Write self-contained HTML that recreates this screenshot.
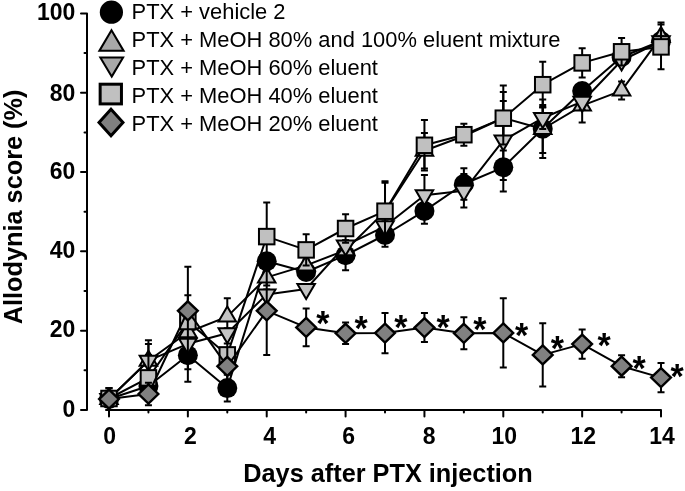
<!DOCTYPE html>
<html><head><meta charset="utf-8"><style>
html,body{margin:0;padding:0;background:#fff;width:685px;height:491px;overflow:hidden;}
svg{display:block;will-change:transform;}
</style></head><body>
<svg width="685" height="491" viewBox="0 0 685 491">
<rect width="685" height="491" fill="#fff"/>
<g stroke="#000" stroke-width="2" fill="none" stroke-linecap="round" stroke-linejoin="round"><path d="M81 13.4H87V410H81"/><path d="M84.5 370.34H87"/><path d="M81 330.68H87"/><path d="M84.5 291.02H87"/><path d="M81 251.36H87"/><path d="M84.5 211.7H87"/><path d="M81 172.04H87"/><path d="M84.5 132.38H87"/><path d="M81 92.72H87"/><path d="M84.5 53.06H87"/><path d="M109 416.5V410H661V416.5"/><path d="M148.43 410V412.6"/><path d="M187.86 410V416.5"/><path d="M227.29 410V412.6"/><path d="M266.72 410V416.5"/><path d="M306.15 410V412.6"/><path d="M345.58 410V416.5"/><path d="M385.01 410V412.6"/><path d="M424.44 410V416.5"/><path d="M463.87 410V412.6"/><path d="M503.3 410V416.5"/><path d="M542.73 410V412.6"/><path d="M582.16 410V416.5"/><path d="M621.59 410V412.6"/></g>
<g font-family="Liberation Sans, sans-serif" font-weight="bold" font-size="23" fill="#000"><text transform="translate(75.3 416.9) scale(1 1.04)" text-anchor="end">0</text><text transform="translate(75.3 337.28) scale(1 1.04)" text-anchor="end">20</text><text transform="translate(75.3 258.06) scale(1 1.04)" text-anchor="end">40</text><text transform="translate(75.3 179.29) scale(1 1.04)" text-anchor="end">60</text><text transform="translate(75.3 100.67) scale(1 1.04)" text-anchor="end">80</text><text transform="translate(75.3 19.55) scale(1 1.04)" text-anchor="end">100</text><text transform="translate(109.72 443.5) scale(1 1.04)" text-anchor="middle">0</text><text transform="translate(190.46 443.5) scale(1 1.04)" text-anchor="middle">2</text><text transform="translate(269.59 443.5) scale(1 1.04)" text-anchor="middle">4</text><text transform="translate(348.59 443.5) scale(1 1.04)" text-anchor="middle">6</text><text transform="translate(429.09 443.5) scale(1 1.04)" text-anchor="middle">8</text><text transform="translate(504.25 443.5) scale(1 1.04)" text-anchor="middle">10</text><text transform="translate(583.24 443.5) scale(1 1.04)" text-anchor="middle">12</text><text transform="translate(662.04 443.5) scale(1 1.04)" text-anchor="middle">14</text></g>
<text transform="translate(388 481.8) scale(1 1.04)" text-anchor="middle" font-family="Liberation Sans, sans-serif" font-weight="bold" font-size="25.3">Days after PTX injection</text>
<text transform="translate(21.6 206.9) rotate(-90) scale(1 1.04)" text-anchor="middle" font-family="Liberation Sans, sans-serif" font-weight="bold" font-size="25.3">Allodynia score (%)</text>
<g stroke="#000" stroke-width="2" fill="none"><path d="M109 393V405M105.5 393h7M105.5 405h7"/><path d="M148.43 380V392M144.93 380h7M144.93 392h7"/><path d="M187.86 328.8V381.8M184.36 328.8h7M184.36 381.8h7"/><path d="M227.29 374.7V401.5M223.79 374.7h7M223.79 401.5h7"/><path d="M266.72 256.3V266.3M263.22 256.3h7M263.22 266.3h7"/><path d="M306.15 267V277M302.65 267h7M302.65 277h7"/><path d="M345.58 240.2V270.2M342.08 240.2h7M342.08 270.2h7"/><path d="M385.01 223.2V246.8M381.51 223.2h7M381.51 246.8h7"/><path d="M424.44 198.1V223.7M420.94 198.1h7M420.94 223.7h7"/><path d="M463.87 168.3V199.7M460.37 168.3h7M460.37 199.7h7"/><path d="M503.3 143V191.6M499.8 143h7M499.8 191.6h7"/><path d="M542.73 99.5V157.9M539.23 99.5h7M539.23 157.9h7"/><path d="M582.16 83V99M578.66 83h7M578.66 99h7"/><path d="M621.59 49V65M618.09 49h7M618.09 65h7"/><path d="M661.02 33V49M657.52 33h7M657.52 49h7"/></g>
<polyline points="109,399 148.43,386 187.86,355.3 227.29,388.1 266.72,261.3 306.15,272 345.58,255.2 385.01,235 424.44,210.9 463.87,184 503.3,167.3 542.73,128.7 582.16,91 621.59,57 661.02,41" fill="none" stroke="#000" stroke-width="2" stroke-linejoin="round"/>
<circle cx="109" cy="399" r="10" fill="#000"/><circle cx="148.43" cy="386" r="10" fill="#000"/><circle cx="187.86" cy="355.3" r="10" fill="#000"/><circle cx="227.29" cy="388.1" r="10" fill="#000"/><circle cx="266.72" cy="261.3" r="10" fill="#000"/><circle cx="306.15" cy="272" r="10" fill="#000"/><circle cx="345.58" cy="255.2" r="10" fill="#000"/><circle cx="385.01" cy="235" r="10" fill="#000"/><circle cx="424.44" cy="210.9" r="10" fill="#000"/><circle cx="463.87" cy="184" r="10" fill="#000"/><circle cx="503.3" cy="167.3" r="10" fill="#000"/><circle cx="542.73" cy="128.7" r="10" fill="#000"/><circle cx="582.16" cy="91" r="10" fill="#000"/><circle cx="621.59" cy="57" r="10" fill="#000"/><circle cx="661.02" cy="41" r="10" fill="#000"/>
<g stroke="#000" stroke-width="2" fill="none"><path d="M109 388V410M105.5 388h7M105.5 410h7"/><path d="M148.43 340.2V381.2M144.93 340.2h7M144.93 381.2h7"/><path d="M187.86 295.2V369.2M184.36 295.2h7M184.36 369.2h7"/><path d="M227.29 298.3V334.9M223.79 298.3h7M223.79 334.9h7"/><path d="M266.72 269.4V285.4M263.22 269.4h7M263.22 285.4h7"/><path d="M306.15 259.4V271.4M302.65 259.4h7M302.65 271.4h7"/><path d="M345.58 244.2V256.2M342.08 244.2h7M342.08 256.2h7"/><path d="M385.01 182.8V240M381.51 182.8h7M381.51 240h7"/><path d="M424.44 132.9V168.5M420.94 132.9h7M420.94 168.5h7"/><path d="M463.87 130V142M460.37 130h7M460.37 142h7"/><path d="M503.3 85.5V150.5M499.8 85.5h7M499.8 150.5h7"/><path d="M542.73 105V153M539.23 105h7M539.23 153h7"/><path d="M582.16 88.8V122.4M578.66 88.8h7M578.66 122.4h7"/><path d="M621.59 81.6V99.6M618.09 81.6h7M618.09 99.6h7"/><path d="M661.02 22.5V51.3M657.52 22.5h7M657.52 51.3h7"/></g>
<polyline points="109,399 148.43,360.7 187.86,332.2 227.29,316.6 266.72,277.4 306.15,265.4 345.58,250.2 385.01,211.4 424.44,150.7 463.87,136 503.3,118 542.73,129 582.16,105.6 621.59,90.6 661.02,36.9" fill="none" stroke="#000" stroke-width="2" stroke-linejoin="round"/>
<path d="M109 388.98L117.76 404L100.24 404Z" fill="#c4c4c4" stroke="#000" stroke-width="2" stroke-miterlimit="10"/><path d="M148.43 350.68L157.19 365.7L139.67 365.7Z" fill="#c4c4c4" stroke="#000" stroke-width="2" stroke-miterlimit="10"/><path d="M187.86 322.18L196.62 337.2L179.1 337.2Z" fill="#c4c4c4" stroke="#000" stroke-width="2" stroke-miterlimit="10"/><path d="M227.29 306.58L236.05 321.6L218.53 321.6Z" fill="#c4c4c4" stroke="#000" stroke-width="2" stroke-miterlimit="10"/><path d="M266.72 267.38L275.48 282.4L257.96 282.4Z" fill="#c4c4c4" stroke="#000" stroke-width="2" stroke-miterlimit="10"/><path d="M306.15 255.38L314.91 270.4L297.39 270.4Z" fill="#c4c4c4" stroke="#000" stroke-width="2" stroke-miterlimit="10"/><path d="M345.58 240.18L354.34 255.2L336.82 255.2Z" fill="#c4c4c4" stroke="#000" stroke-width="2" stroke-miterlimit="10"/><path d="M424.44 140.68L433.2 155.7L415.68 155.7Z" fill="#c4c4c4" stroke="#000" stroke-width="2" stroke-miterlimit="10"/><path d="M542.73 118.98L551.49 134L533.97 134Z" fill="#c4c4c4" stroke="#000" stroke-width="2" stroke-miterlimit="10"/><path d="M582.16 95.58L590.92 110.6L573.4 110.6Z" fill="#c4c4c4" stroke="#000" stroke-width="2" stroke-miterlimit="10"/><path d="M621.59 80.58L630.35 95.6L612.83 95.6Z" fill="#c4c4c4" stroke="#000" stroke-width="2" stroke-miterlimit="10"/><path d="M661.02 26.88L669.78 41.9L652.26 41.9Z" fill="#c4c4c4" stroke="#000" stroke-width="2" stroke-miterlimit="10"/>
<g stroke="#000" stroke-width="2" fill="none"><path d="M109 393V405M105.5 393h7M105.5 405h7"/><path d="M148.43 343.9V377.5M144.93 343.9h7M144.93 377.5h7"/><path d="M187.86 338.8V348.8M184.36 338.8h7M184.36 348.8h7"/><path d="M227.29 328.2V338.2M223.79 328.2h7M223.79 338.2h7"/><path d="M266.72 289.4V299.4M263.22 289.4h7M263.22 299.4h7"/><path d="M306.15 285V293M302.65 285h7M302.65 293h7"/><path d="M345.58 240.4V250.4M342.08 240.4h7M342.08 250.4h7"/><path d="M385.01 221.3V231.3M381.51 221.3h7M381.51 231.3h7"/><path d="M424.44 175V215.4M420.94 175h7M420.94 215.4h7"/><path d="M463.87 174V207.6M460.37 174h7M460.37 207.6h7"/><path d="M503.3 100.9V179.9M499.8 100.9h7M499.8 179.9h7"/><path d="M542.73 107V129M539.23 107h7M539.23 129h7"/><path d="M582.16 93.7V109.7M578.66 93.7h7M578.66 109.7h7"/><path d="M621.59 55.5V65.5M618.09 55.5h7M618.09 65.5h7"/><path d="M661.02 36.3V46.3M657.52 36.3h7M657.52 46.3h7"/></g>
<polyline points="109,399 148.43,360.7 187.86,343.8 227.29,333.2 266.72,294.4 306.15,289 345.58,245.4 385.01,226.3 424.44,195.2 463.87,190.8 503.3,140.4 542.73,118 582.16,101.7 621.59,60.5 661.02,41.3" fill="none" stroke="#000" stroke-width="2" stroke-linejoin="round"/>
<path d="M109 409.02L117.76 394L100.24 394Z" fill="#c4c4c4" stroke="#000" stroke-width="2" stroke-miterlimit="10"/><path d="M148.43 370.72L157.19 355.7L139.67 355.7Z" fill="#c4c4c4" stroke="#000" stroke-width="2" stroke-miterlimit="10"/><path d="M187.86 353.82L196.62 338.8L179.1 338.8Z" fill="#c4c4c4" stroke="#000" stroke-width="2" stroke-miterlimit="10"/><path d="M227.29 343.22L236.05 328.2L218.53 328.2Z" fill="#c4c4c4" stroke="#000" stroke-width="2" stroke-miterlimit="10"/><path d="M266.72 304.42L275.48 289.4L257.96 289.4Z" fill="#c4c4c4" stroke="#000" stroke-width="2" stroke-miterlimit="10"/><path d="M306.15 299.02L314.91 284L297.39 284Z" fill="#c4c4c4" stroke="#000" stroke-width="2" stroke-miterlimit="10"/><path d="M345.58 255.42L354.34 240.4L336.82 240.4Z" fill="#c4c4c4" stroke="#000" stroke-width="2" stroke-miterlimit="10"/><path d="M385.01 236.32L393.77 221.3L376.25 221.3Z" fill="#c4c4c4" stroke="#000" stroke-width="2" stroke-miterlimit="10"/><path d="M424.44 205.22L433.2 190.2L415.68 190.2Z" fill="#c4c4c4" stroke="#000" stroke-width="2" stroke-miterlimit="10"/><path d="M463.87 200.82L472.63 185.8L455.11 185.8Z" fill="#c4c4c4" stroke="#000" stroke-width="2" stroke-miterlimit="10"/><path d="M503.3 150.42L512.06 135.4L494.54 135.4Z" fill="#c4c4c4" stroke="#000" stroke-width="2" stroke-miterlimit="10"/><path d="M542.73 128.02L551.49 113L533.97 113Z" fill="#c4c4c4" stroke="#000" stroke-width="2" stroke-miterlimit="10"/><path d="M582.16 111.72L590.92 96.7L573.4 96.7Z" fill="#c4c4c4" stroke="#000" stroke-width="2" stroke-miterlimit="10"/><path d="M621.59 70.52L630.35 55.5L612.83 55.5Z" fill="#c4c4c4" stroke="#000" stroke-width="2" stroke-miterlimit="10"/><path d="M661.02 51.32L669.78 36.3L652.26 36.3Z" fill="#c4c4c4" stroke="#000" stroke-width="2" stroke-miterlimit="10"/>
<g stroke="#000" stroke-width="2" fill="none"><path d="M109 392.5V404.5M105.5 392.5h7M105.5 404.5h7"/><path d="M148.43 354.9V400.9M144.93 354.9h7M144.93 400.9h7"/><path d="M187.86 315.5V327.5M184.36 315.5h7M184.36 327.5h7"/><path d="M227.29 349.9V359.9M223.79 349.9h7M223.79 359.9h7"/><path d="M266.72 202.4V270.8M263.22 202.4h7M263.22 270.8h7"/><path d="M306.15 234.2V265.6M302.65 234.2h7M302.65 265.6h7"/><path d="M345.58 214.3V242.7M342.08 214.3h7M342.08 242.7h7"/><path d="M385.01 181.2V241.2M381.51 181.2h7M381.51 241.2h7"/><path d="M424.44 120V170.6M420.94 120h7M420.94 170.6h7"/><path d="M463.87 123.7V145.7M460.37 123.7h7M460.37 145.7h7"/><path d="M503.3 92V144.4M499.8 92h7M499.8 144.4h7"/><path d="M542.73 61.8V107.6M539.23 61.8h7M539.23 107.6h7"/><path d="M582.16 48.2V77.6M578.66 48.2h7M578.66 77.6h7"/><path d="M621.59 38V65.6M618.09 38h7M618.09 65.6h7"/><path d="M661.02 24.6V69.2M657.52 24.6h7M657.52 69.2h7"/></g>
<polyline points="109,398.5 148.43,377.9 187.86,321.5 227.29,354.9 266.72,236.6 306.15,249.9 345.58,228.5 385.01,211.2 424.44,145.3 463.87,134.7 503.3,118.2 542.73,84.7 582.16,62.9 621.59,51.8 661.02,46.9" fill="none" stroke="#000" stroke-width="2" stroke-linejoin="round"/>
<rect x="101.25" y="390.75" width="15.5" height="15.5" fill="#c0c0c0" stroke="#000" stroke-width="2"/><rect x="140.68" y="370.15" width="15.5" height="15.5" fill="#c0c0c0" stroke="#000" stroke-width="2"/><rect x="180.11" y="313.75" width="15.5" height="15.5" fill="#c0c0c0" stroke="#000" stroke-width="2"/><rect x="219.54" y="347.15" width="15.5" height="15.5" fill="#c0c0c0" stroke="#000" stroke-width="2"/><rect x="258.97" y="228.85" width="15.5" height="15.5" fill="#c0c0c0" stroke="#000" stroke-width="2"/><rect x="298.4" y="242.15" width="15.5" height="15.5" fill="#c0c0c0" stroke="#000" stroke-width="2"/><rect x="337.83" y="220.75" width="15.5" height="15.5" fill="#c0c0c0" stroke="#000" stroke-width="2"/><rect x="377.26" y="203.45" width="15.5" height="15.5" fill="#c0c0c0" stroke="#000" stroke-width="2"/><rect x="416.69" y="137.55" width="15.5" height="15.5" fill="#c0c0c0" stroke="#000" stroke-width="2"/><rect x="456.12" y="126.95" width="15.5" height="15.5" fill="#c0c0c0" stroke="#000" stroke-width="2"/><rect x="495.55" y="110.45" width="15.5" height="15.5" fill="#c0c0c0" stroke="#000" stroke-width="2"/><rect x="534.98" y="76.95" width="15.5" height="15.5" fill="#c0c0c0" stroke="#000" stroke-width="2"/><rect x="574.41" y="55.15" width="15.5" height="15.5" fill="#c0c0c0" stroke="#000" stroke-width="2"/><rect x="613.84" y="44.05" width="15.5" height="15.5" fill="#c0c0c0" stroke="#000" stroke-width="2"/><rect x="653.27" y="39.15" width="15.5" height="15.5" fill="#c0c0c0" stroke="#000" stroke-width="2"/>
<g stroke="#000" stroke-width="2" fill="none"><path d="M109 388.1V410.1M105.5 388.1h7M105.5 410.1h7"/><path d="M148.43 382.7V405.3M144.93 382.7h7M144.93 405.3h7"/><path d="M187.86 266.7V354.9M184.36 266.7h7M184.36 354.9h7"/><path d="M227.29 343.4V389.2M223.79 343.4h7M223.79 389.2h7"/><path d="M266.72 266.6V355M263.22 266.6h7M263.22 355h7"/><path d="M306.15 308.5V346.3M302.65 308.5h7M302.65 346.3h7"/><path d="M345.58 322.5V344.1M342.08 322.5h7M342.08 344.1h7"/><path d="M385.01 312.9V353.3M381.51 312.9h7M381.51 353.3h7"/><path d="M424.44 313.1V342.1M420.94 313.1h7M420.94 342.1h7"/><path d="M463.87 317.3V349.3M460.37 317.3h7M460.37 349.3h7"/><path d="M503.3 298.2V367.6M499.8 298.2h7M499.8 367.6h7"/><path d="M542.73 323.3V386.5M539.23 323.3h7M539.23 386.5h7"/><path d="M582.16 329.4V358.8M578.66 329.4h7M578.66 358.8h7"/><path d="M621.59 355.2V377.2M618.09 355.2h7M618.09 377.2h7"/><path d="M661.02 362.9V392.3M657.52 362.9h7M657.52 392.3h7"/></g>
<polyline points="109,399.1 148.43,394 187.86,310.8 227.29,366.3 266.72,310.8 306.15,327.4 345.58,333.3 385.01,333.1 424.44,327.6 463.87,333.3 503.3,332.9 542.73,354.9 582.16,344.1 621.59,366.2 661.02,377.6" fill="none" stroke="#000" stroke-width="2" stroke-linejoin="round"/>
<path d="M109 389.57L118.87 399.1L109 408.63L99.13 399.1Z" fill="#808080" stroke="#000" stroke-width="2.4" stroke-miterlimit="10"/><path d="M148.43 384.47L158.3 394L148.43 403.53L138.56 394Z" fill="#808080" stroke="#000" stroke-width="2.4" stroke-miterlimit="10"/><path d="M187.86 301.27L197.73 310.8L187.86 320.33L177.99 310.8Z" fill="#808080" stroke="#000" stroke-width="2.4" stroke-miterlimit="10"/><path d="M227.29 356.77L237.16 366.3L227.29 375.83L217.42 366.3Z" fill="#808080" stroke="#000" stroke-width="2.4" stroke-miterlimit="10"/><path d="M266.72 301.27L276.59 310.8L266.72 320.33L256.85 310.8Z" fill="#808080" stroke="#000" stroke-width="2.4" stroke-miterlimit="10"/><path d="M306.15 317.87L316.02 327.4L306.15 336.93L296.28 327.4Z" fill="#808080" stroke="#000" stroke-width="2.4" stroke-miterlimit="10"/><path d="M345.58 323.77L355.45 333.3L345.58 342.83L335.71 333.3Z" fill="#808080" stroke="#000" stroke-width="2.4" stroke-miterlimit="10"/><path d="M385.01 323.57L394.88 333.1L385.01 342.63L375.14 333.1Z" fill="#808080" stroke="#000" stroke-width="2.4" stroke-miterlimit="10"/><path d="M424.44 318.07L434.31 327.6L424.44 337.13L414.57 327.6Z" fill="#808080" stroke="#000" stroke-width="2.4" stroke-miterlimit="10"/><path d="M463.87 323.77L473.74 333.3L463.87 342.83L454 333.3Z" fill="#808080" stroke="#000" stroke-width="2.4" stroke-miterlimit="10"/><path d="M503.3 323.37L513.17 332.9L503.3 342.43L493.43 332.9Z" fill="#808080" stroke="#000" stroke-width="2.4" stroke-miterlimit="10"/><path d="M542.73 345.37L552.6 354.9L542.73 364.43L532.86 354.9Z" fill="#808080" stroke="#000" stroke-width="2.4" stroke-miterlimit="10"/><path d="M582.16 334.57L592.03 344.1L582.16 353.63L572.29 344.1Z" fill="#808080" stroke="#000" stroke-width="2.4" stroke-miterlimit="10"/><path d="M621.59 356.67L631.46 366.2L621.59 375.73L611.72 366.2Z" fill="#808080" stroke="#000" stroke-width="2.4" stroke-miterlimit="10"/><path d="M661.02 368.07L670.89 377.6L661.02 387.13L651.15 377.6Z" fill="#808080" stroke="#000" stroke-width="2.4" stroke-miterlimit="10"/>
<g font-family="Liberation Sans, sans-serif" font-weight="bold" font-size="34" fill="#000" text-anchor="middle"><text transform="translate(322.8 334.7) scale(1 1.05)">*</text><text transform="translate(361 340.2) scale(1 1.05)">*</text><text transform="translate(400.8 339.2) scale(1 1.05)">*</text><text transform="translate(443 339.4) scale(1 1.05)">*</text><text transform="translate(479.8 340.9) scale(1 1.05)">*</text><text transform="translate(521.5 346.9) scale(1 1.05)">*</text><text transform="translate(557.4 359.6) scale(1 1.05)">*</text><text transform="translate(604.2 356.9) scale(1 1.05)">*</text><text transform="translate(639.2 379.9) scale(1 1.05)">*</text><text transform="translate(677 387.6) scale(1 1.05)">*</text></g>
<circle cx="111.4" cy="12.2" r="11.6" fill="#000"/><path d="M111.5 30.24L123.65 50.87L99.35 50.87Z" fill="#a8a8a8" stroke="#000" stroke-width="2" stroke-miterlimit="10"/><path d="M111.7 76.62L123.09 57.57L100.31 57.57Z" fill="#a8a8a8" stroke="#000" stroke-width="2" stroke-miterlimit="10"/><rect x="100.15" y="84.2" width="21.3" height="19.7" fill="#c0c0c0" stroke="#000" stroke-width="3"/><path d="M111 109.14L122.98 122.4L111 135.66L99.02 122.4Z" fill="#808080" stroke="#000" stroke-width="3" stroke-miterlimit="10"/><g font-family="Liberation Sans, sans-serif" font-size="21.9" fill="#000"><text transform="translate(131.6 18.8) scale(1 1.04)">PTX + vehicle 2</text><text transform="translate(131.6 46.8) scale(1 1.04)">PTX + MeOH 80% and 100% eluent mixture</text><text transform="translate(131.6 74.8) scale(1 1.04)">PTX + MeOH 60% eluent</text><text transform="translate(131.6 102.8) scale(1 1.04)">PTX + MeOH 40% eluent</text><text transform="translate(131.6 130.8) scale(1 1.04)">PTX + MeOH 20% eluent</text></g>
</svg>
</body></html>
